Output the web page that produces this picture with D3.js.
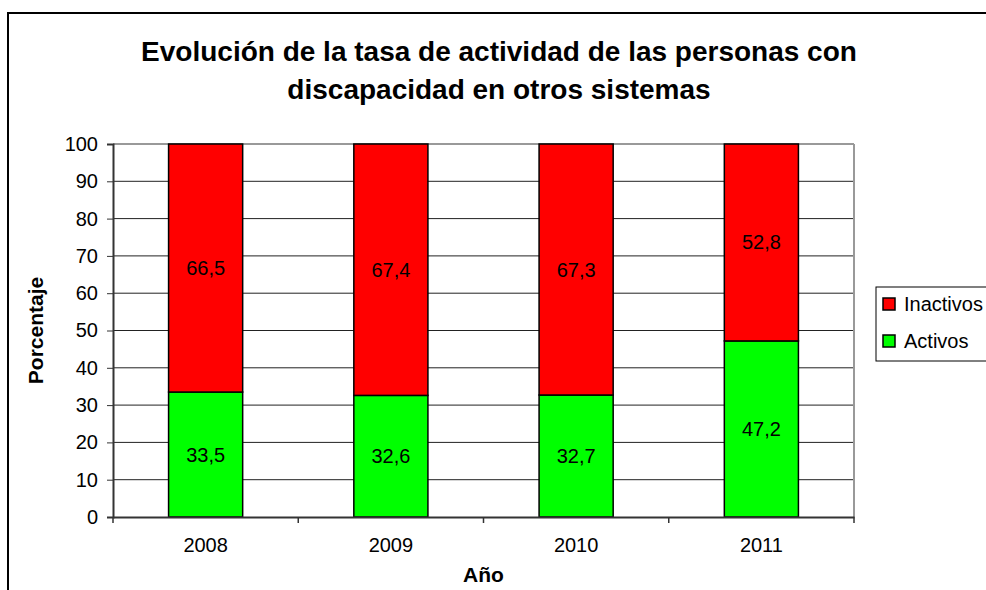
<!DOCTYPE html>
<html>
<head>
<meta charset="utf-8">
<script src="https://cdnjs.cloudflare.com/ajax/libs/d3/7.8.5/d3.min.js"></script>
<style>
  body { margin: 0; background: #fff; }
  svg { display: block; font-family: "Liberation Sans", Arial, sans-serif; }
</style>
</head>
<body>
<div id="chart"></div>
<script>
var years = ['2008', '2009', '2010', '2011'];
var activos = [33.5, 32.6, 32.7, 47.2];
var inactivos = [66.5, 67.4, 67.3, 52.8];
var seriesNames = ['Activos', 'Inactivos'];
var seriesColors = ['#00ff00', '#ff0000'];
var yTicks = [0, 10, 20, 30, 40, 50, 60, 70, 80, 90, 100];
var titleLines = ['Evolución de la tasa de actividad de las personas con', 'discapacidad en otros sistemas'];

var width = 986, height = 590;
var margins = {left: 113, right: 132, top: 144, bottom: 73};
var innerW = width - margins.left - margins.right;
var innerH = height - margins.top - margins.bottom;

var svg = d3.select('#chart').append('svg')
            .attr('width', width)
            .attr('height', height);

// outer chart frame (clipped on right and bottom like the original)
svg.append('rect')
   .attr('x', 8).attr('y', 13)
   .attr('width', width).attr('height', height)
   .attr('fill', 'none')
   .attr('stroke', '#000')
   .attr('stroke-width', 2);

// title
svg.append('text')
   .attr('text-anchor', 'middle')
   .attr('font-size', '28px')
   .attr('font-weight', 'bold')
   .selectAll('tspan')
   .data(titleLines)
   .enter().append('tspan')
   .attr('x', 499)
   .attr('y', function(d, i) { return 61 + i * 38; })
   .text(function(d) { return d; });

var g = svg.append('g')
           .attr('transform', 'translate(' + margins.left + ',' + margins.top + ')');

var x = d3.scaleBand().domain(years).range([0, innerW]).paddingInner(0.6).paddingOuter(0.3);
var xCat = d3.scaleBand().domain(years).range([0, innerW]);
var y = d3.scaleLinear().domain([0, 100]).range([innerH, 0]);

// gridlines
g.append('g').selectAll('line')
 .data(yTicks.slice(1))
 .enter().append('line')
 .attr('x1', 0).attr('x2', innerW)
 .attr('y1', function(d) { return y(d); })
 .attr('y2', function(d) { return y(d); })
 .attr('stroke', function(d) { return d === 100 ? '#999' : '#222'; })
 .attr('stroke-width', function(d) { return d === 100 ? 2 : 1; });

// right border of plot area
g.append('line')
 .attr('x1', innerW).attr('x2', innerW)
 .attr('y1', 0).attr('y2', innerH)
 .attr('stroke', '#999').attr('stroke-width', 2);

// stacked bars
var stackData = years.map(function(yr, i) {
  return {year: yr, Activos: activos[i], Inactivos: inactivos[i]};
});
var stacked = d3.stack().keys(seriesNames)(stackData);

var layers = g.selectAll('g.layer')
              .data(stacked)
              .enter().append('g')
              .attr('class', 'layer')
              .attr('fill', function(d, i) { return seriesColors[i]; });

layers.selectAll('rect')
      .data(function(d) { return d; })
      .enter().append('rect')
      .attr('x', function(d) { return x(d.data.year); })
      .attr('y', function(d) { return y(d[1]); })
      .attr('width', x.bandwidth())
      .attr('height', function(d) { return y(d[0]) - y(d[1]); })
      .attr('stroke', '#000')
      .attr('stroke-width', 1.5);

layers.selectAll('text')
      .data(function(d) { return d; })
      .enter().append('text')
      .attr('x', function(d) { return x(d.data.year) + x.bandwidth() / 2; })
      .attr('y', function(d) { return y((d[0] + d[1]) / 2); })
      .attr('dy', '0.35em')
      .attr('text-anchor', 'middle')
      .attr('font-size', '20px')
      .attr('fill', '#000')
      .text(function(d) { return d3.format('.1f')(d[1] - d[0]).replace('.', ','); });

// y axis
var yAxis = d3.axisLeft(y).tickValues(yTicks).tickSizeOuter(0).tickSize(6).tickPadding(9);
var yg = g.append('g').call(yAxis);
yg.attr('font-family', null).attr('font-size', null);
yg.selectAll('text').attr('font-size', '20px').attr('fill', '#000');
yg.select('.domain').attr('stroke', '#333').attr('stroke-width', 2);
yg.selectAll('.tick line').attr('stroke', '#333');

// x axis
var xAxis = d3.axisBottom(xCat).tickSize(0).tickPadding(21);
var xg = g.append('g').attr('transform', 'translate(0,' + innerH + ')').call(xAxis);
xg.attr('font-family', null).attr('font-size', null);
xg.selectAll('text').attr('font-size', '20px').attr('fill', '#000');
xg.select('.domain').attr('stroke', '#333').attr('stroke-width', 2);
// tick marks between categories
xg.selectAll('line.sep')
  .data(d3.range(years.length + 1))
  .enter().append('line')
  .attr('class', 'sep')
  .attr('x1', function(i) { return i * xCat.step(); })
  .attr('x2', function(i) { return i * xCat.step(); })
  .attr('y1', 0).attr('y2', 6)
  .attr('stroke', '#333').attr('stroke-width', 1.5);

// axis titles
svg.append('text')
   .attr('transform', 'translate(43,' + (margins.top + innerH / 2) + ') rotate(-90)')
   .attr('text-anchor', 'middle')
   .attr('font-size', '21px')
   .attr('font-weight', 'bold')
   .text('Porcentaje');

svg.append('text')
   .attr('x', margins.left + innerW / 2)
   .attr('y', 582)
   .attr('text-anchor', 'middle')
   .attr('font-size', '21px')
   .attr('font-weight', 'bold')
   .text('Año');

// legend
var legend = svg.append('g').attr('transform', 'translate(876,287)');
legend.append('rect')
      .attr('width', 120).attr('height', 74)
      .attr('fill', '#fff')
      .attr('stroke', '#000').attr('stroke-width', 1);

var legendItems = [1, 0];
var items = legend.selectAll('g.item')
                  .data(legendItems)
                  .enter().append('g')
                  .attr('class', 'item')
                  .attr('transform', function(d, i) { return 'translate(7,' + (17 + i * 37) + ')'; });
items.append('rect')
     .attr('x', 0).attr('y', -6)
     .attr('width', 12).attr('height', 12)
     .attr('fill', function(d) { return seriesColors[d]; })
     .attr('stroke', '#000').attr('stroke-width', 1.5);
items.append('text')
     .attr('x', 21).attr('dy', '0.35em')
     .attr('font-size', '20px')
     .text(function(d) { return seriesNames[d]; });
</script>
</body>
</html>
